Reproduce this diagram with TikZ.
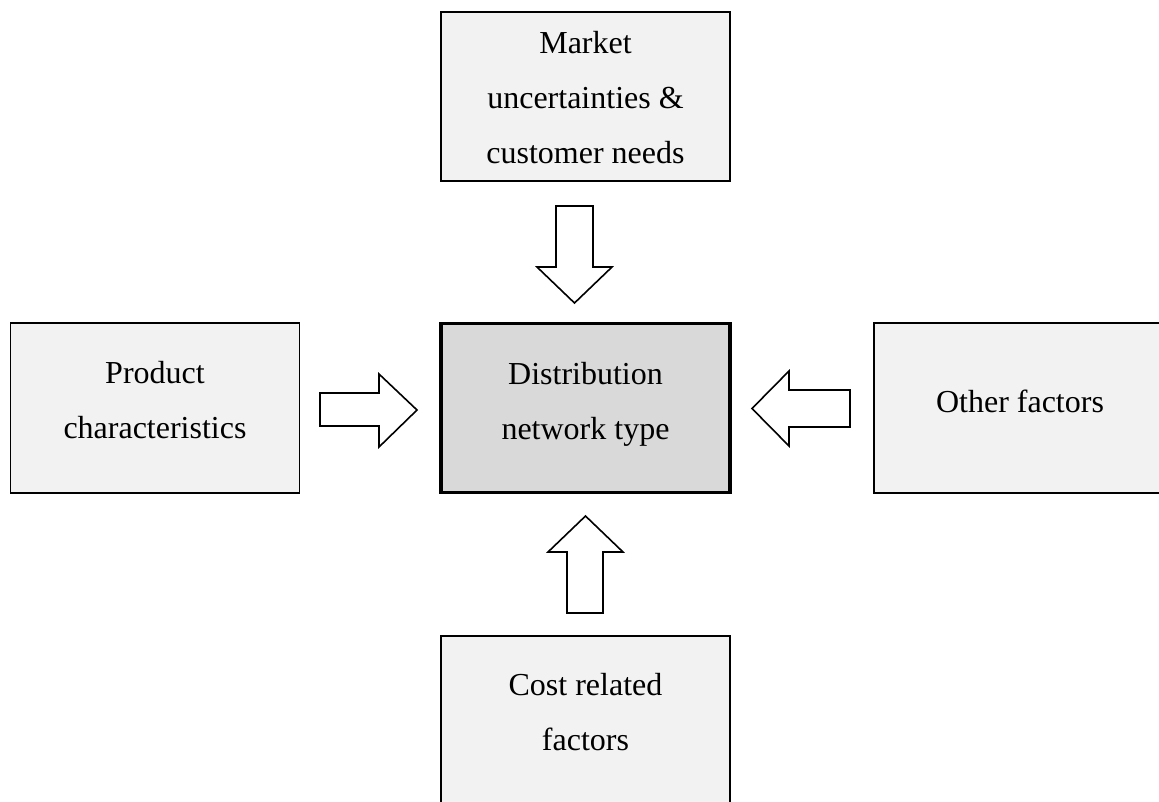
\documentclass[tikz,border=0pt]{standalone}
\usepackage{fontspec}
\setmainfont{Liberation Serif}
\definecolor{boxfill}{HTML}{F2F2F2}
\definecolor{corefill}{HTML}{D9D9D9}
\begin{document}
\begin{tikzpicture}[x=0.75pt,y=-0.75pt,
  factor/.style={draw=black,line width=1.4pt,fill=boxfill,inner sep=0pt,
    minimum width=216.75pt,minimum height=127pt},
  core/.style={factor,fill=corefill,line width=2.5pt},
  lbl/.style={anchor=base,align=center,inner sep=0pt,
    font=\fontsize{24}{41.25}\selectfont},
  blockarrow/.style={draw=black,line width=1.2pt,fill=white,line join=miter}]
\useasboundingbox (0,0) rectangle (1159,801);

% boxes
\node[factor] (market) at (585.5,96.5) {};
\node[core]   (dist)   at (585.5,408) {};
\node[factor] (prod)   at (155,408) {};
\node[factor] (other)  at (1018.5,408) {};
\node[factor] (cost)   at (585.5,721) {};

% labels (placed on the baseline of their last line)
\node[lbl] (market-t) at (585.5,163) {Market\\uncertainties \&\\customer needs};
\node[lbl] (dist-t)   at (585.5,439) {Distribution\\network type};
\node[lbl] (prod-t)   at (155,438)   {Product\\characteristics};
\node[lbl] (other-t)  at (1020,412)  {Other factors};
\node[lbl] (cost-t)   at (585.5,750) {Cost related\\factors};

% block arrows pointing at the central box
\draw[blockarrow] (556,206) -- (593,206) -- (593,267) -- (612,267)
  -- (574.5,303) -- (537,267) -- (556,267) -- cycle;
\draw[blockarrow] (320,393) -- (379,393) -- (379,374) -- (417,410)
  -- (379,447) -- (379,426) -- (320,426) -- cycle;
\draw[blockarrow] (850,390) -- (789,390) -- (789,371) -- (752,408.5)
  -- (789,446) -- (789,427) -- (850,427) -- cycle;
\draw[blockarrow] (567,613) -- (567,552) -- (548,552) -- (585.5,516)
  -- (623,552) -- (603,552) -- (603,613) -- cycle;
\end{tikzpicture}
\end{document}
